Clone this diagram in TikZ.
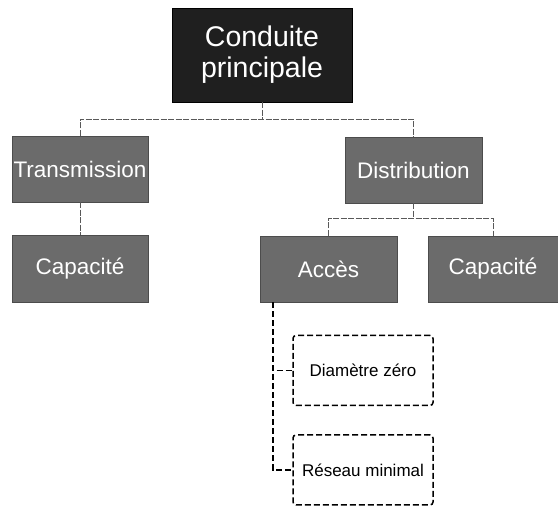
\documentclass[tikz,border=0pt]{standalone}
\usepackage{fontspec}
\setmainfont{Liberation Sans}
\begin{document}
\begin{tikzpicture}[x=1pt,y=1pt,
  topbox/.style={draw=black,fill=black!88,text=white,minimum width=180pt,minimum height=94pt,inner sep=0pt,align=center,font=\fontsize{28.5}{31}\selectfont},
  graybox/.style={draw=black!70,fill=black!58,text=white,inner sep=0pt,minimum height=66pt,font=\fontsize{22.5}{26}\selectfont},
  dashbox/.style={draw=black,line width=1.5pt,dash pattern=on 6pt off 3pt,rounded corners=3pt,minimum width=140pt,minimum height=70pt,inner sep=0pt,font=\fontsize{17}{20}\selectfont},
  thinlink/.style={draw=black!65,line width=0.7pt,dash pattern=on 6pt off 1.5pt},
  boldlink/.style={draw=black,line width=1.5pt,dash pattern=on 6pt off 3pt}]
\useasboundingbox (0,0) rectangle (558,506);
\node[topbox] (top) at (262,451) {Conduite\\principale};
\node[graybox,minimum width=136pt] (trans) at (80,337) {Transmission};
\node[graybox,minimum width=136pt,minimum height=67pt] (capl) at (80,237.5) {Capacité};
\node[graybox,minimum width=137pt] (dist) at (413.5,336) {Distribution};
\node[graybox,minimum width=137pt] (acces) at (328.5,237) {Accès};
\node[graybox,minimum width=130pt] (capr) at (493,237) {Capacité};
\node[dashbox] (diam) at (363,135.5) {Diamètre zéro};
\node[dashbox] (res) at (363,36) {Réseau minimal};
\coordinate (bus1) at (0,387);
\coordinate (bus2) at (0,288);
\draw[thinlink] (top.south) -- (top.south |- bus1);
\draw[thinlink] (trans.north) |- (bus1 -| dist.north) -- (dist.north);
\draw[thinlink] (trans.south) -- (capl.north);
\draw[thinlink] (dist.south) -- (dist.south |- bus2);
\draw[thinlink] (acces.north) |- (bus2 -| capr.north) -- (capr.north);
\coordinate (a0) at ([xshift=13pt]acces.south west);
\draw[boldlink] (a0) |- (diam.west);
\draw[boldlink] (a0) |- (res.west);
\end{tikzpicture}
\end{document}
